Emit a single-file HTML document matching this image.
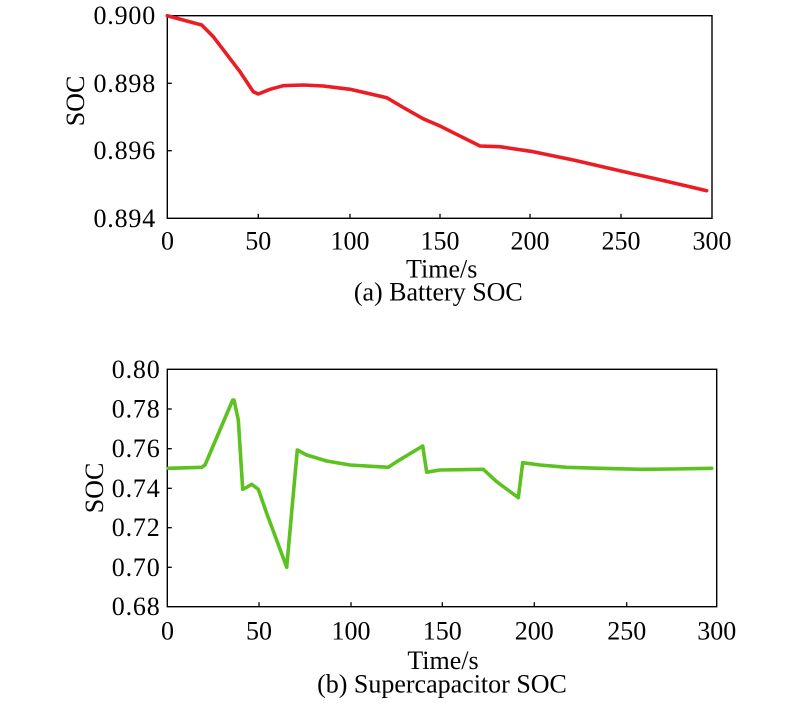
<!DOCTYPE html>
<html>
<head>
<meta charset="utf-8">
<style>
  html, body { margin: 0; padding: 0; background: #ffffff; }
  svg { display: block; }
  text { font-family: "Liberation Serif", "DejaVu Serif", serif; fill: #000; }
</style>
</head>
<body>
<svg width="800" height="710" viewBox="0 0 800 710" xmlns="http://www.w3.org/2000/svg" font-family="Liberation Serif, DejaVu Serif, serif">
  <rect x="0" y="0" width="800" height="710" fill="#ffffff"/>

  <!-- ================= TOP CHART ================= -->
  <g>
    <rect x="167.3" y="15.7" width="544.7" height="202.6" fill="none" stroke="#000" stroke-width="1.4"/>
    <g stroke="#000" stroke-width="1.3">
      <line x1="258.3" y1="218.3" x2="258.3" y2="213.8"/>
      <line x1="350" y1="218.3" x2="350" y2="213.8"/>
      <line x1="440" y1="218.3" x2="440" y2="213.8"/>
      <line x1="530" y1="218.3" x2="530" y2="213.8"/>
      <line x1="621" y1="218.3" x2="621" y2="213.8"/>
      <line x1="167.3" y1="83.3" x2="171.8" y2="83.3"/>
      <line x1="167.3" y1="150.7" x2="171.8" y2="150.7"/>
    </g>
    <g font-size="26" text-anchor="end" letter-spacing="0.8">
      <text x="156" y="24">0.900</text>
      <text x="156" y="91.8">0.898</text>
      <text x="156" y="159.2">0.896</text>
      <text x="156" y="226.8">0.894</text>
    </g>
    <g font-size="26" text-anchor="middle">
      <text x="167.5" y="249.3">0</text>
      <text x="258.3" y="249.3">50</text>
      <text x="350" y="249.3">100</text>
      <text x="440" y="249.3">150</text>
      <text x="530" y="249.3">200</text>
      <text x="621" y="249.3">250</text>
      <text x="712" y="249.3">300</text>
    </g>
    <text x="441.7" y="277.7" font-size="26" text-anchor="middle">Time/s</text>
    <text x="438.3" y="300.7" font-size="26" text-anchor="middle">(a) Battery SOC</text>
    <text transform="translate(84,101) rotate(-90)" font-size="26" text-anchor="middle">SOC</text>

    <polyline fill="none" stroke="#ec1c24" stroke-width="3.6" stroke-linejoin="round" stroke-linecap="round"
      points="167.3,15.7 201.7,25 213.3,36.7 240,71.7 253.3,91.7 258.3,94 270,89.3 283.3,85.7 303.3,85 323.3,86 350,89.3 386.7,97.7 403.3,107.5 423.3,118.8 440,126 453.3,132.7 480,146 500,146.7 533.3,151.7 573.3,160 613.3,169.3 653.3,178.3 686.7,186 706.7,190.7"/>
  </g>

  <!-- ================= BOTTOM CHART ================= -->
  <g>
    <rect x="167.3" y="369.3" width="549.4" height="237.4" fill="none" stroke="#000" stroke-width="1.4"/>
    <g stroke="#000" stroke-width="1.3">
      <line x1="259" y1="606.7" x2="259" y2="602.2"/>
      <line x1="351" y1="606.7" x2="351" y2="602.2"/>
      <line x1="442.3" y1="606.7" x2="442.3" y2="602.2"/>
      <line x1="534.3" y1="606.7" x2="534.3" y2="602.2"/>
      <line x1="626.7" y1="606.7" x2="626.7" y2="602.2"/>
      <line x1="167.3" y1="409" x2="171.8" y2="409"/>
      <line x1="167.3" y1="448.7" x2="171.8" y2="448.7"/>
      <line x1="167.3" y1="488.3" x2="171.8" y2="488.3"/>
      <line x1="167.3" y1="527.7" x2="171.8" y2="527.7"/>
      <line x1="167.3" y1="567.3" x2="171.8" y2="567.3"/>
    </g>
    <g font-size="26" text-anchor="end" letter-spacing="0.8">
      <text x="160.5" y="377.8">0.80</text>
      <text x="160.5" y="417.5">0.78</text>
      <text x="160.5" y="457.2">0.76</text>
      <text x="160.5" y="496.8">0.74</text>
      <text x="160.5" y="536.2">0.72</text>
      <text x="160.5" y="575.8">0.70</text>
      <text x="160.5" y="615.2">0.68</text>
    </g>
    <g font-size="26" text-anchor="middle">
      <text x="167.5" y="639.3">0</text>
      <text x="259" y="639.3">50</text>
      <text x="351" y="639.3">100</text>
      <text x="442.3" y="639.3">150</text>
      <text x="534.3" y="639.3">200</text>
      <text x="626.7" y="639.3">250</text>
      <text x="716.7" y="639.3">300</text>
    </g>
    <text x="443" y="669" font-size="26" text-anchor="middle">Time/s</text>
    <text x="442" y="692.7" font-size="26" text-anchor="middle">(b) Supercapacitor SOC</text>
    <text transform="translate(103,488) rotate(-90)" font-size="26" text-anchor="middle">SOC</text>

    <polyline fill="none" stroke="#5cc21f" stroke-width="3.6" stroke-linejoin="round" stroke-linecap="round"
      points="168.3,468.3 201.7,467.3 205,465 232.7,400 234,400 238.3,420 242.7,489.3 246.7,487.3 251.7,484.3 258.3,489.3 266.7,513.3 286.7,567.3 297.3,450 306.7,455 326.7,461 350,465 388.3,467.3 396.7,461.7 422.7,446 426.7,472.2 440,470 483.3,469.3 496.7,481.7 518.3,497.7 522.7,462.7 540,465 566.7,467.3 600,468.3 640,469.3 673.3,469 711.7,468.3"/>
  </g>
</svg>
</body>
</html>
